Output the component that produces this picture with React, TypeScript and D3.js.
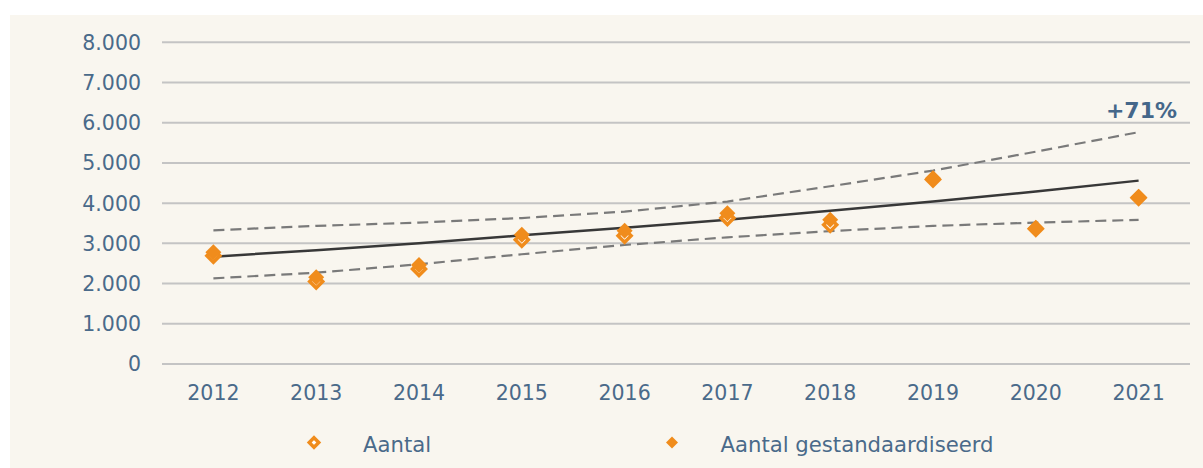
import React from "react";
import * as d3 from "d3";

const years = ["2012","2013","2014","2015","2016","2017","2018","2019","2020","2021"];
const aantal = [2690, 2050, 2360, 3090, 3190, 3630, 3460, 4590, 3365, 4135];
const aantalStd = [2780, 2160, 2465, 3215, 3315, 3750, 3585, 4620, 3375, 4150];
const trend = [2670, 2830, 3000, 3200, 3390, 3590, 3810, 4040, 4290, 4560];
const upper = [3325, 3435, 3515, 3630, 3790, 4040, 4420, 4810, 5280, 5765];
const lower = [2130, 2270, 2480, 2730, 2960, 3150, 3305, 3435, 3515, 3585];
const yTicks = [0, 1000, 2000, 3000, 4000, 5000, 6000, 7000, 8000];
const legendLabels = ["Aantal", "Aantal gestandaardiseerd"];
const changeLabel = "+71%";

const W = 1203, H = 468;
const TXT = "#4a6a8a";
const ORANGE = "#F08C1C";
const FONT = "'DejaVu Sans', Verdana, sans-serif";

export default function App() {
  const x = d3.scaleBand<string>().domain(years).range([162, 1190]);
  const y = d3.scaleLinear().domain([0, 8000]).range([364, 42.3]);
  const cx = (d: string) => (x(d) as number) + x.bandwidth() / 2;
  const line = d3.line<number>().x((_, i) => cx(years[i])).y((v) => y(v));
  const fmt = (v: number) => d3.format(",")(v).replace(/,/g, ".");
  const diamond = (px: number, py: number, r: number) =>
    `M${px},${py - r}L${px + r},${py}L${px},${py + r}L${px - r},${py}Z`;

  return (
    <svg width={W} height={H} style={{ position: "absolute", left: 0, top: 0, display: "block" }} fontFamily={FONT}>
      <rect x={0} y={0} width={W} height={H} fill="#ffffff" />
      <rect x={10} y={15} width={W - 10} height={H - 15} fill="#F9F6EF" />
      {yTicks.map((t) => (
        <g key={t}>
          <line x1={162} x2={1190} y1={y(t)} y2={y(t)} stroke="#C4C4C4" strokeWidth={2} />
          <text x={141} y={y(t)} dy="0.36em" textAnchor="end" fontSize={20.5} fill={TXT}>{fmt(t)}</text>
        </g>
      ))}
      {years.map((yr) => (
        <text key={yr} x={cx(yr)} y={400} textAnchor="middle" fontSize={20.5} fill={TXT}>{yr}</text>
      ))}
      <path d={line(upper) || ""} fill="none" stroke="#7A7A7A" strokeWidth={2.2} strokeDasharray="11 6" />
      <path d={line(lower) || ""} fill="none" stroke="#7A7A7A" strokeWidth={2.2} strokeDasharray="11 6" />
      <path d={line(trend) || ""} fill="none" stroke="#383838" strokeWidth={2.5} />
      {aantal.map((v, i) => (
        <path key={"a" + i} d={diamond(cx(years[i]), y(v), 6.5)} fill="#FFFFFF" stroke={ORANGE} strokeWidth={3.5} strokeLinejoin="miter" />
      ))}
      {aantalStd.map((v, i) => (
        <path key={"s" + i} d={diamond(cx(years[i]), y(v), 8)} fill={ORANGE} />
      ))}
      <text x={1177} y={118} textAnchor="end" fontSize={22} fontWeight="bold" fill="#45678A">{changeLabel}</text>
      <path d={diamond(314, 442.5, 4.8)} fill="#FFFFFF" stroke={ORANGE} strokeWidth={3.4} />
      <text x={363} y={451.5} fontSize={21.2} fill={TXT}>{legendLabels[0]}</text>
      <path d={diamond(672, 442.5, 6)} fill={ORANGE} />
      <text x={720.5} y={451.5} fontSize={21.2} fill={TXT}>{legendLabels[1]}</text>
    </svg>
  );
}
